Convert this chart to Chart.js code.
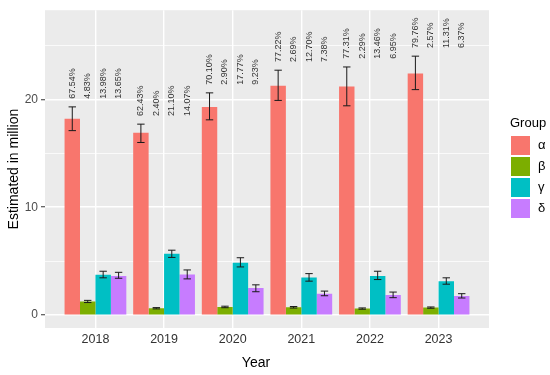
<!DOCTYPE html>
<html><head><meta charset="utf-8">
<script src="https://cdn.jsdelivr.net/npm/chart.js@4/dist/chart.umd.min.js"></script>
<style>html,body{margin:0;padding:0;background:#fff}</style>
</head><body>
<canvas id="c" width="550" height="375"></canvas>
<script>
const years = [2018, 2019, 2020, 2021, 2022, 2023];
const groups = ['α', 'β', 'γ', 'δ'];
const colors = ['#F8766D', '#7CAE00', '#00BFC4', '#C77CFF'];

const alphaValues = [18.2, 16.9, 19.3, 21.25, 21.2, 22.4];
const alphaLower  = [17.1, 16.0, 18.1, 19.9, 19.4, 20.9];
const alphaUpper  = [19.3, 17.7, 20.6, 22.7, 23.0, 24.0];
const betaValues  = [1.27, 0.64, 0.76, 0.73, 0.61, 0.70];
const betaLower   = [1.17, 0.58, 0.69, 0.66, 0.55, 0.64];
const betaUpper   = [1.37, 0.70, 0.83, 0.80, 0.67, 0.76];
const gammaValues = [3.74, 5.69, 4.86, 3.49, 3.64, 3.15];
const gammaLower  = [3.46, 5.35, 4.47, 3.15, 3.30, 2.87];
const gammaUpper  = [4.07, 6.02, 5.32, 3.85, 4.07, 3.46];
const deltaValues = [3.64, 3.76, 2.51, 1.99, 1.87, 1.77];
const deltaLower  = [3.42, 3.36, 2.17, 1.80, 1.62, 1.59];
const deltaUpper  = [3.97, 4.19, 2.81, 2.23, 2.14, 1.99];

const alphaPct = [67.54, 62.43, 70.10, 77.22, 77.31, 79.76];
const betaPct  = [4.83, 2.40, 2.90, 2.69, 2.29, 2.57];
const gammaPct = [13.98, 21.10, 17.77, 12.70, 13.46, 11.31];
const deltaPct = [13.65, 14.07, 9.23, 7.38, 6.95, 6.37];

const yTickLabels = [0, 10, 20];

const FONT = "'Liberation Sans', Arial, sans-serif";
Chart.defaults.font.family = FONT;

const valueSets = [alphaValues, betaValues, gammaValues, deltaValues];
const lowSets = [alphaLower, betaLower, gammaLower, deltaLower];
const highSets = [alphaUpper, betaUpper, gammaUpper, deltaUpper];
const pctSets = [alphaPct, betaPct, gammaPct, deltaPct];

const panelPlugin = {
  id: 'panel',
  beforeDraw(chart) {
    const a = chart.chartArea, ctx = chart.ctx;
    ctx.save();
    ctx.fillStyle = '#EBEBEB';
    ctx.fillRect(a.left, a.top, a.right - a.left, a.bottom - a.top);
    ctx.restore();
  }
};

const overlayPlugin = {
  id: 'overlay',
  afterDatasetsDraw(chart) {
    const ctx = chart.ctx, ys = chart.scales.y;
    ctx.save();
    ctx.strokeStyle = '#1a1a1a';
    ctx.lineWidth = 1;
    chart.data.datasets.forEach((ds, di) => {
      const meta = chart.getDatasetMeta(di);
      meta.data.forEach((bar, i) => {
        const x = bar.x;
        const y1 = ys.getPixelForValue(lowSets[di][i]);
        const y2 = ys.getPixelForValue(highSets[di][i]);
        const hw = bar.width * 0.24;
        ctx.beginPath();
        ctx.moveTo(x, y1); ctx.lineTo(x, y2);
        ctx.moveTo(x - hw, y1); ctx.lineTo(x + hw, y1);
        ctx.moveTo(x - hw, y2); ctx.lineTo(x + hw, y2);
        ctx.stroke();
      });
    });
    ctx.fillStyle = '#333333';
    ctx.font = '9px ' + FONT;
    ctx.textAlign = 'left';
    ctx.textBaseline = 'middle';
    chart.data.datasets.forEach((ds, di) => {
      const meta = chart.getDatasetMeta(di);
      meta.data.forEach((bar, i) => {
        const y = ys.getPixelForValue(alphaUpper[i] + 0.75);
        ctx.save();
        ctx.translate(bar.x, y);
        ctx.rotate(-Math.PI / 2);
        ctx.fillText(pctSets[di][i].toFixed(2) + '%', 0, 0);
        ctx.restore();
      });
    });
    ctx.fillStyle = '#000';
    ctx.font = '14px ' + FONT;
    ctx.textAlign = 'center';
    ctx.textBaseline = 'middle';
    ctx.save();
    ctx.translate(14, (chart.chartArea.top + chart.chartArea.bottom) / 2);
    ctx.rotate(-Math.PI / 2);
    ctx.fillText('Estimated in million', 0, 0);
    ctx.restore();
    ctx.fillText('Year', 256, 363);
    ctx.textAlign = 'left';
    ctx.textBaseline = 'alphabetic';
    ctx.font = '13px ' + FONT;
    ctx.fillText('Group', 510, 127);
    groups.forEach((g, k) => {
      const top = 136 + 21 * k;
      ctx.fillStyle = colors[k];
      ctx.fillRect(511, top, 19, 19);
      ctx.fillStyle = '#000';
      ctx.textBaseline = 'middle';
      ctx.fillText(g, 538, top + 9.5);
    });
    ctx.restore();
  }
};

new Chart(document.getElementById('c'), {
  type: 'bar',
  data: {
    labels: years,
    datasets: groups.map((g, k) => ({
      label: g,
      data: valueSets[k],
      backgroundColor: colors[k],
      borderWidth: 0,
      categoryPercentage: 0.9,
      barPercentage: 1.0
    }))
  },
  options: {
    responsive: false,
    devicePixelRatio: 1,
    animation: false,
    layout: { padding: { left: 0, right: 61, top: 7, bottom: 0 } },
    plugins: { legend: { display: false }, tooltip: { enabled: false } },
    scales: {
      x: {
        type: 'linear',
        offset: false,
        min: 2017.265,
        max: 2023.735,
        afterFit: s => { s.height = 47; },
        border: { display: false },
        grid: { color: '#FFFFFF', lineWidth: 1.4, drawTicks: false, offset: false },
        ticks: {
          stepSize: 1,
          includeBounds: false,
          padding: 4,
          color: '#333333',
          font: { size: 12.5 },
          maxRotation: 0,
          autoSkip: false,
          callback: v => String(v)
        }
      },
      y: {
        type: 'linear',
        min: -1.19,
        max: 28.26,
        afterFit: s => { s.width = 45; },
        border: { display: false },
        grid: {
          color: '#FFFFFF',
          lineWidth: c => (c.tick && yTickLabels.includes(c.tick.value)) ? 1.5 : 0.75,
          tickColor: c => (c.tick && yTickLabels.includes(c.tick.value)) ? '#333333' : 'rgba(0,0,0,0)',
          tickWidth: 1,
          tickLength: 4
        },
        ticks: {
          stepSize: 5,
          includeBounds: false,
          padding: 3,
          color: '#4d4d4d',
          font: { size: 12 },
          autoSkip: false,
          callback: v => yTickLabels.includes(v) ? String(v) : ''
        }
      }
    }
  },
  plugins: [panelPlugin, overlayPlugin]
});
</script>
</body></html>
